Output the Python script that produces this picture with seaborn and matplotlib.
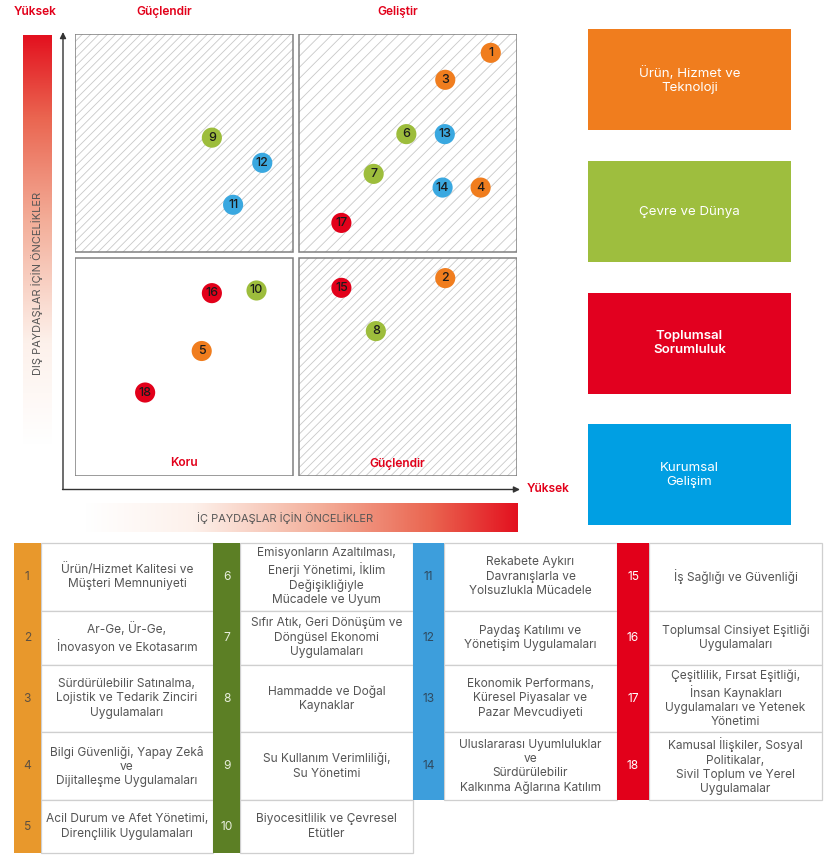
import matplotlib
matplotlib.use("Agg")
import matplotlib.pyplot as plt
import numpy as np
import pandas as pd
import seaborn as sns
from matplotlib.colors import LinearSegmentedColormap
from matplotlib.patches import Rectangle

# ---- data -------------------------------------------------------------
topic_ids = list(range(1, 19))
# x: iç paydaşlar için öncelik, y: dış paydaşlar için öncelik (0-10)
internal_score = [9.40, 8.37, 8.37, 9.17, 2.86, 7.49, 6.75, 6.80, 3.09,
                  4.10, 3.57, 4.23, 8.36, 8.31, 6.02, 3.09, 6.02, 1.58]
external_score = [9.58, 4.48, 8.97, 6.53, 2.83, 7.74, 6.84, 3.28, 7.66,
                  4.20, 6.14, 7.09, 7.74, 6.53, 4.26, 4.14, 5.73, 1.89]

categories = ["Ürün, Hizmet ve\nTeknoloji", "Çevre ve Dünya",
              "Toplumsal\nSorumluluk", "Kurumsal\nGelişim"]
topic_category = [0, 0, 0, 0, 0, 1, 1, 1, 1, 1, 3, 3, 3, 3, 2, 2, 2, 2]

quadrant_names = ["Güçlendir", "Geliştir", "Koru", "Güçlendir"]
axis_high = "Yüksek"
y_title = "DIŞ PAYDAŞLAR İÇİN ÖNCELİKLER"
x_title = "İÇ PAYDAŞLAR İÇİN ÖNCELİKLER"

table_groups = [[1, 2, 3, 4, 5], [6, 7, 8, 9, 10], [11, 12, 13, 14], [15, 16, 17, 18]]
topic_labels = {
    1: "Ürün/Hizmet Kalitesi ve\nMüşteri Memnuniyeti",
    2: "Ar-Ge, Ür-Ge,\nİnovasyon ve Ekotasarım",
    3: "Sürdürülebilir Satınalma,\nLojistik ve Tedarik Zinciri\nUygulamaları",
    4: "Bilgi Güvenliği, Yapay Zekâ\nve\nDijitalleşme Uygulamaları",
    5: "Acil Durum ve Afet Yönetimi,\nDirençlilik Uygulamaları",
    6: "Emisyonların Azaltılması,\nEnerji Yönetimi, İklim\nDeğişikliğiyle\nMücadele ve Uyum",
    7: "Sıfır Atık, Geri Dönüşüm ve\nDöngüsel Ekonomi\nUygulamaları",
    8: "Hammadde ve Doğal\nKaynaklar",
    9: "Su Kullanım Verimliliği,\nSu Yönetimi",
    10: "Biyocesitlilik ve Çevresel\nEtütler",
    11: "Rekabete Aykırı\nDavranışlarla ve\nYolsuzlukla Mücadele",
    12: "Paydaş Katılımı ve\nYönetişim Uygulamaları",
    13: "Ekonomik Performans,\nKüresel Piyasalar ve\nPazar Mevcudiyeti",
    14: "Uluslararası Uyumluluklar\nve\nSürdürülebilir\nKalkınma Ağlarına Katılım",
    15: "İş Sağlığı ve Güvenliği",
    16: "Toplumsal Cinsiyet Eşitliği\nUygulamaları",
    17: "Çeşitlilik, Fırsat Eşitliği,\nİnsan Kaynakları\nUygulamaları ve Yetenek\nYönetimi",
    18: "Kamusal İlişkiler, Sosyal\nPolitikalar,\nSivil Toplum ve Yerel\nUygulamalar",
}

# ---- style ------------------------------------------------------------
dot_colors = ["#F07D1E", "#9DBD3C", "#E2001A", "#3AA8E0"]
box_colors = ["#F07D1E", "#9EBE3E", "#E2001F", "#009FE3"]
table_colors = ["#E8982C", "#5C7F25", "#3D9EDC", "#E2001A"]
table_num_colors = ["#5e5040", "#e8eedd", "#2f4a60", "#ffffff"]
RED = "#E2001A"
TXT = "#555555"

sns.set_theme(style="white")
plt.rcParams["font.family"] = ["Inter", "DejaVu Sans"]
plt.rcParams["hatch.linewidth"] = 0.6

W, H = 836, 864
fig = plt.figure(figsize=(W / 100, H / 100), dpi=100)

# layout axes in pixel units
lay = fig.add_axes([0, 0, 1, 1], zorder=0)
lay.set_xlim(0, W)
lay.set_ylim(H, 0)
lay.axis("off")


def px_axes(x0, y0, x1, y1, **kw):
    return fig.add_axes([x0 / W, 1 - y1 / H, (x1 - x0) / W, (y1 - y0) / H], **kw)


# ---- gradients --------------------------------------------------------
grad = LinearSegmentedColormap.from_list(
    "grad", [(0, "#ffffff"), (0.25, "#fdf1eb"), (0.55, "#f3ad98"),
             (0.8, "#ea6550"), (1.0, "#e3111f")])
ramp = np.linspace(0, 1, 256)
lay.imshow(ramp[:, None], cmap=grad, aspect="auto", extent=(23, 52, 445, 35),
           origin="lower", zorder=1)
lay.imshow(ramp[None, :], cmap=grad, aspect="auto", extent=(85, 518, 532, 503),
           zorder=1)
lay.text(37, 283, y_title, rotation=90, ha="center", va="center",
         fontsize=7.9, color=TXT, zorder=3)
lay.text(285, 518, x_title, ha="center", va="center", fontsize=7.9,
         color=TXT, zorder=3)

# ---- axes arrows and labels -------------------------------------------
arrow = dict(arrowstyle="-|>", color="#333333", lw=1, mutation_scale=9,
             shrinkA=0, shrinkB=0)
lay.annotate("", xy=(63, 32), xytext=(63, 489.5), arrowprops=arrow, zorder=3)
lay.annotate("", xy=(520, 489.5), xytext=(62.5, 489.5), arrowprops=arrow, zorder=3)
lay.text(35, 12, axis_high, ha="center", va="center", fontsize=8.6,
         fontweight="semibold", color=RED)
lay.text(548, 489, axis_high, ha="center", va="center", fontsize=8.6,
         fontweight="semibold", color=RED)

# ---- matrix -----------------------------------------------------------
ax = px_axes(75.3, 34.3, 517.3, 476, zorder=2)
ax.set_xlim(0, 10)
ax.set_ylim(0, 10)
ax.patch.set_alpha(0)
ax.axis("off")

quads = [(0, 5.07, "////"), (5.07, 5.07, "///"), (0, 0, None), (5.07, 0, "////")]
for x0, y0, hatch in quads:
    if hatch:
        ax.add_patch(Rectangle((x0, y0), 4.93, 4.93, facecolor="white",
                               edgecolor="#c8c8c8", hatch=hatch, lw=0, zorder=1))
    ax.add_patch(Rectangle((x0, y0), 4.93, 4.93, fill=False,
                           edgecolor="#808080", lw=1.1, zorder=2))

lay.text(164, 12, quadrant_names[0], ha="center", va="center", fontsize=8.6,
         fontweight="semibold", color=RED)
lay.text(398, 12, quadrant_names[1], ha="center", va="center", fontsize=8.6,
         fontweight="semibold", color=RED)
lay.text(184, 463.5, quadrant_names[2], ha="center", va="center", fontsize=8.6,
         fontweight="semibold", color=RED, zorder=3)
fig.text(397 / W, 1 - 463.5 / H, quadrant_names[3], ha="center", va="center",
         fontsize=8.6, fontweight="semibold", color=RED, zorder=5)

df = pd.DataFrame({"id": topic_ids, "x": internal_score, "y": external_score,
                   "cat": [categories[c] for c in topic_category]})
sns.scatterplot(data=df, x="x", y="y", hue="cat", hue_order=categories,
                palette=dot_colors, s=210, linewidth=0, legend=False,
                ax=ax, zorder=4, clip_on=False)
for _, r in df.iterrows():
    ax.text(r["x"], r["y"], str(r["id"]), ha="center", va="center",
            fontsize=9, fontweight="medium", color="#1a1a1a", zorder=5)
ax.axis("off")

# ---- category boxes ---------------------------------------------------
box_tops = [29.3, 161, 292.7, 424.3]
for top, name, col in zip(box_tops, categories, box_colors):
    lay.add_patch(Rectangle((588, top), 203, 101, facecolor=col, lw=0))
    lay.text(689.5, top + 50.5, name, ha="center", va="center", fontsize=9.6,
             color="white", linespacing=1.25,
             fontweight="semibold" if col == "#E2001F" else "normal")

# ---- table ------------------------------------------------------------
col_x = [14, 40.7, 213.3, 240, 413.3, 443.7, 617.3, 648.7, 822.3]
row_y = [542.7, 610.7, 664.7, 732.3, 800.3, 852.7]
for g, nums in enumerate(table_groups):
    nx0, nx1, tx1 = col_x[2 * g], col_x[2 * g + 1], col_x[2 * g + 2]
    for r, n in enumerate(nums):
        y0, y1 = row_y[r], row_y[r + 1]
        lay.add_patch(Rectangle((nx1, y0), tx1 - nx1, y1 - y0, facecolor="white",
                                edgecolor="#cfcfcf", lw=0.9, zorder=2))
        lay.add_patch(Rectangle((nx0, y0), nx1 - nx0, y1 - y0,
                                facecolor=table_colors[g], lw=0, zorder=3))
        lay.text((nx0 + nx1) / 2, (y0 + y1) / 2, str(n), ha="center",
                 va="center", fontsize=8.6, color=table_num_colors[g], zorder=4)
        lay.text((nx1 + tx1) / 2, (y0 + y1) / 2, topic_labels[n], ha="center",
                 va="center", fontsize=8.6, color=TXT, linespacing=1.25, zorder=4)

fig.savefig("out.png", dpi=100)
